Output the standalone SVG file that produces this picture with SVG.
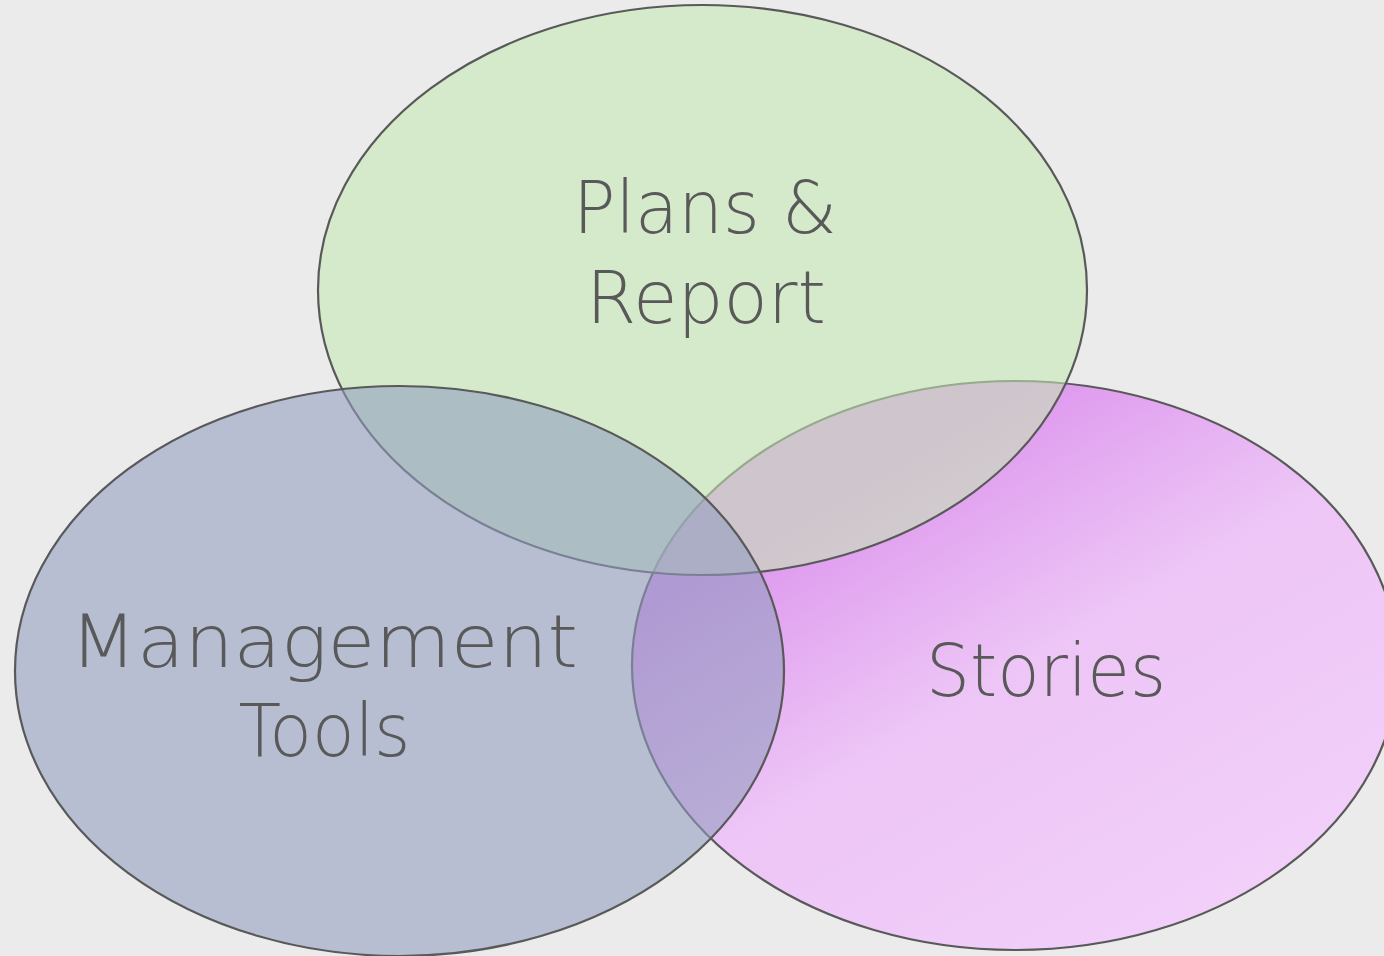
<svg xmlns="http://www.w3.org/2000/svg" width="1384" height="956" viewBox="0 0 1384 956">
<defs>
<linearGradient id="pinkGrad" gradientUnits="userSpaceOnUse" x1="700" y1="573" x2="1006" y2="1089">
<stop offset="0" stop-color="#dc96ee"/>
<stop offset="0.08" stop-color="#e0a0ef"/>
<stop offset="0.4" stop-color="#edc5f6"/>
<stop offset="1" stop-color="#f2d1fa"/>
</linearGradient>
</defs>
<style>
.shape{stroke:#595959;stroke-width:2.2}
.lbl{font-family:"DejaVu Sans ExtraLight","DejaVu Sans",sans-serif;font-weight:200;font-size:73px;fill:#595959;text-anchor:middle}
</style>
<rect x="0" y="0" width="1384" height="956" fill="#ebebeb"/>
<g id="connectors"></g>
<g id="stories">
<ellipse class="shape" cx="1015" cy="665.5" rx="383" ry="284.5" fill="url(#pinkGrad)"/>
</g>
<g id="plans-report">
<ellipse class="shape" cx="702.5" cy="290" rx="384.5" ry="285" fill="#c5e9b3" fill-opacity="0.57"/>
</g>
<g id="management-tools">
<ellipse class="shape" cx="399.5" cy="671" rx="384.5" ry="285" fill="#909cc0" fill-opacity="0.58"/>
</g>
<g id="labels">
<text class="lbl" x="705" y="233" textLength="264" lengthAdjust="spacingAndGlyphs">Plans &amp;</text>
<text class="lbl" x="706" y="323" textLength="240" lengthAdjust="spacingAndGlyphs">Report</text>
<text class="lbl" x="324" y="667" textLength="508" lengthAdjust="spacingAndGlyphs">Management</text>
<text class="lbl" x="324.5" y="756" textLength="172" lengthAdjust="spacingAndGlyphs">Tools</text>
<text class="lbl" x="1046" y="696" textLength="240" lengthAdjust="spacingAndGlyphs">Stories</text>
</g>
</svg>
